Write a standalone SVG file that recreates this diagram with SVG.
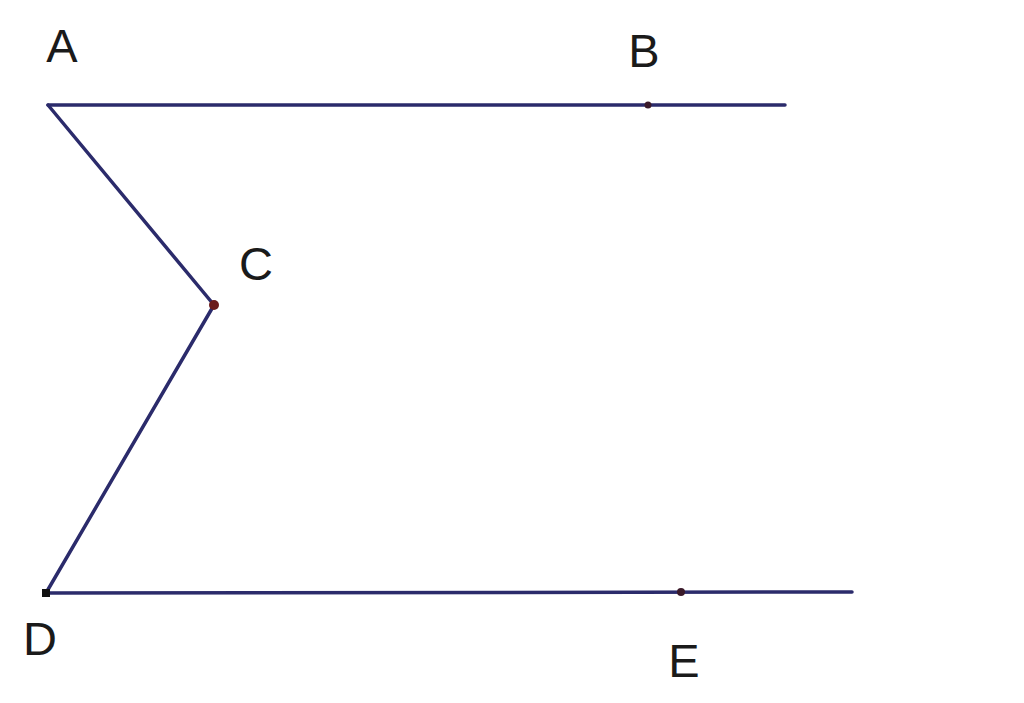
<svg xmlns="http://www.w3.org/2000/svg" width="1024" height="703" viewBox="0 0 1024 703">
<style>
.ln{stroke:#2b2b6b;stroke-width:3.5;fill:none;stroke-linecap:round}
.lb{font-family:"Liberation Sans",Arial,sans-serif;font-size:47px;fill:#1a1a1a;text-anchor:middle}
.pt{fill:#3a1a2a}
</style>
<rect width="1024" height="703" fill="#ffffff"/>
<g id="connectors">
<line class="ln" x1="48" y1="105" x2="785" y2="105"/>
<line class="ln" x1="48" y1="105" x2="214" y2="305"/>
<line class="ln" x1="214" y1="305" x2="46" y2="593"/>
<line class="ln" x1="46" y1="593" x2="852" y2="592"/>
</g>
<g id="A"><text class="lb" x="62" y="62">A</text></g>
<g id="B"><circle class="pt" cx="648" cy="105" r="3.5"/><text class="lb" x="644" y="67">B</text></g>
<g id="C"><circle cx="214" cy="305" r="5" fill="#6a1a1a"/><text class="lb" x="256" y="280">C</text></g>
<g id="D"><rect x="42" y="589" width="8" height="8" fill="#111"/><text class="lb" x="40" y="655">D</text></g>
<g id="E"><circle class="pt" cx="681" cy="592" r="4"/><text class="lb" x="684" y="677">E</text></g>
</svg>
